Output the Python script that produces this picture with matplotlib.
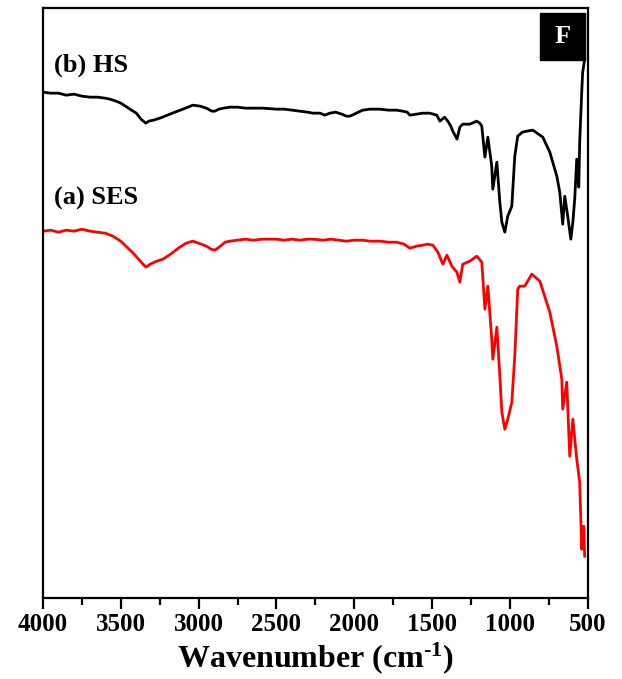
import numpy as np
import matplotlib
matplotlib.use("Agg")
from matplotlib import pyplot as plt
from matplotlib.patches import Rectangle
from matplotlib.ticker import MultipleLocator

plt.rcParams['font.family'] = ['Liberation Serif', 'DejaVu Serif']
plt.rcParams['font.weight'] = 'bold'
plt.rcParams['mathtext.fontset'] = 'custom'
plt.rcParams['mathtext.rm'] = 'Liberation Serif:bold'
plt.rcParams['mathtext.default'] = 'rm'

# FTIR spectra, transmittance in arbitrary units
hs_wn = [4000, 3950, 3900, 3850, 3800, 3750, 3698, 3650, 3600, 3570, 3530, 3500, 3460,
         3441, 3400, 3370, 3339, 3320, 3290, 3249, 3200, 3152, 3100, 3037, 2990, 2950,
         2915, 2895, 2870, 2840, 2799, 2750, 2700, 2650, 2587, 2500, 2450, 2400, 2350,
         2300, 2266, 2220, 2190, 2157, 2120, 2080, 2050, 2028, 2000, 1960, 1945, 1900,
         1836, 1780, 1727, 1690, 1660, 1643, 1600, 1560, 1515, 1470, 1450, 1420, 1399,
         1380, 1367, 1340, 1322, 1303, 1258, 1213, 1194, 1181, 1161, 1142, 1117, 1110,
         1084, 1065, 1052, 1033, 1014, 988, 969, 950, 920, 892, 853, 789, 744, 699, 680,
         661, 648, 629, 609, 596, 584, 571, 558, 552, 539, 533, 520]
hs_t = [506, 505, 505, 503, 504, 502, 501, 501, 500, 499, 497, 495, 491,
        489, 485, 479, 475, 477, 478, 480, 483, 486, 489, 493, 492, 490,
        487, 487, 489, 490, 491, 491, 490, 490, 490, 489, 489, 488, 487,
        486, 485, 485, 483, 485, 486, 484, 482, 482, 484, 487, 488, 489,
        489, 488, 488, 487, 486, 483, 484, 485, 485, 483, 477, 481, 477,
        472, 467, 459, 471, 474, 474, 477, 475, 472, 441, 461, 432, 409,
        436, 396, 376, 366, 382, 392, 442, 462, 466, 467, 468, 461, 446, 422, 406,
        374, 402, 382, 359, 376, 399, 439, 411, 456, 506, 526, 539]

ses_wn = [4000, 3950, 3900, 3850, 3800, 3750, 3698, 3650, 3600, 3550, 3500, 3460, 3420,
          3380, 3339, 3310, 3270, 3229, 3180, 3130, 3080, 3037, 3000, 2950, 2920, 2895,
          2860, 2830, 2799, 2750, 2700, 2650, 2587, 2500, 2450, 2400, 2350, 2300, 2266,
          2200, 2150, 2100, 2050, 2000, 1945, 1900, 1836, 1780, 1727, 1680, 1643, 1600,
          1560, 1530, 1495, 1463, 1431, 1405, 1373, 1341, 1322, 1303, 1258, 1213, 1181,
          1161, 1142, 1117, 1110, 1084, 1065, 1052, 1033, 1014, 988, 969, 950, 937, 905,
          860, 808, 744, 699, 667, 661, 635, 616, 596, 571, 552, 539, 526, 520]
ses_t = [367, 368, 366, 368, 367, 369, 367, 366, 365, 362, 357, 351, 345,
         338, 331, 334, 337, 339, 344, 350, 355, 357, 355, 352, 349, 348,
         352, 356, 357, 358, 359, 358, 359, 359, 358, 359, 358, 359, 359,
         358, 359, 358, 357, 358, 358, 357, 357, 356, 356, 354, 350, 352,
         353, 354, 353, 346, 334, 343, 332, 326, 316, 334, 337, 342, 336,
         289, 312, 259, 239, 271, 222, 186, 169, 179, 196, 242, 309, 312, 312,
         324, 317, 286, 252, 219, 189, 216, 142, 179, 139, 116, 49, 72, 42]

figure = plt.figure(figsize=(6.22, 6.79), dpi=100)
ax = figure.add_axes([0.069, 0.119, 0.876, 0.869])

ax.plot(hs_wn, hs_t, color="black", linewidth=2.0)
ax.plot(ses_wn, ses_t, color="red", linewidth=2.0)

ax.set_xlim(4000, 500)
ax.set_ylim(0, 590)
ax.xaxis.set_major_locator(MultipleLocator(500))
ax.xaxis.set_minor_locator(MultipleLocator(250))
ax.tick_params(axis="x", which="major", direction="out", length=8, width=1.6,
               labelsize=18, pad=3)
ax.tick_params(axis="x", which="minor", direction="out", length=5, width=1.6)
ax.set_yticks([])
for spine in ax.spines.values():
    spine.set_linewidth(1.6)
for lab in ax.get_xticklabels():
    lab.set_fontweight("bold")

ax.set_xlabel("Wavenumber (cm$^{\\text{-1}}$)", fontsize=23, fontweight="bold", labelpad=3)

ax.text(0.02, 0.903, "(b) HS", transform=ax.transAxes, fontsize=19,
        fontweight="bold", ha="left", va="center")
ax.text(0.02, 0.678, "(a) SES", transform=ax.transAxes, fontsize=19,
        fontweight="bold", ha="left", va="center")

ax.add_patch(Rectangle((0.912, 0.912), 0.082, 0.08, transform=ax.transAxes,
                       facecolor="black", edgecolor="black", zorder=5))
ax.text(0.953, 0.952, "F", transform=ax.transAxes, fontsize=19, color="white",
        fontweight="bold", ha="center", va="center", zorder=6)

figure.savefig("out.png", dpi=100)
